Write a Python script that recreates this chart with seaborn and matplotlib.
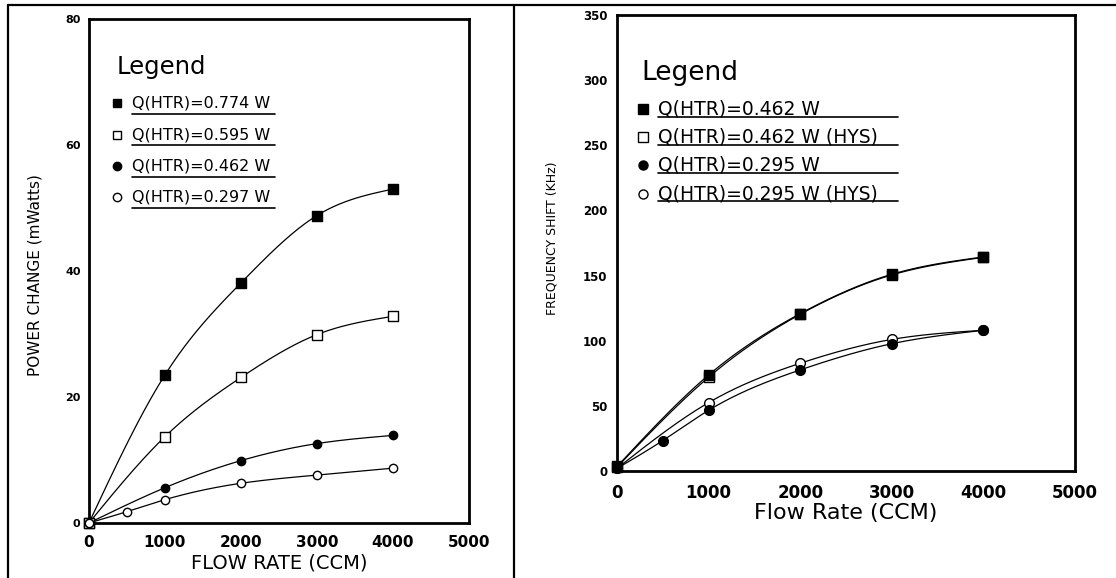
import numpy as np
import pandas as pd
import matplotlib
matplotlib.use("Agg")
import matplotlib.pyplot as plt
from matplotlib.lines import Line2D
import seaborn as sns

# ---- data -------------------------------------------------------------
# Left panel: power change (mW) vs flow rate (CCM)
flow_power = [0, 1000, 2000, 3000, 4000]
power_0774 = [0, 23.5, 38.1, 48.8, 53.0]
power_0595 = [0, 13.7, 23.1, 29.9, 32.8]
power_0462 = [0, 5.6, 9.9, 12.6, 13.9]
flow_power_0297 = [0, 500, 1000, 2000, 3000, 4000]
power_0297 = [0, 1.8, 3.7, 6.3, 7.6, 8.7]
power_labels = ["Q(HTR)=0.774 W", "Q(HTR)=0.595 W",
                "Q(HTR)=0.462 W", "Q(HTR)=0.297 W"]

# Right panel: frequency shift (kHz) vs flow rate (CCM)
flow_freq = [0, 1000, 2000, 3000, 4000]
freq_0462 = [3.5, 73.7, 120.8, 151.0, 164.3]
freq_0462_hys = [3.0, 72.0, 120.3, 150.5, 164.0]
flow_freq_0295 = [0, 500, 1000, 2000, 3000, 4000]
freq_0295 = [2.0, 23.4, 46.6, 77.6, 97.7, 108.0]
freq_0295_hys = [2.0, 52.5, 82.7, 101.0, 108.0]
freq_labels = ["Q(HTR)=0.462 W", "Q(HTR)=0.462 W (HYS)",
               "Q(HTR)=0.295 W", "Q(HTR)=0.295 W (HYS)"]

x_ticks = [0, 1000, 2000, 3000, 4000, 5000]
power_ticks = [0, 20, 40, 60, 80]
freq_ticks = [0, 50, 100, 150, 200, 250, 300, 350]


def natural_spline(x, y, xs):
    """Natural cubic spline through the measured points."""
    x = np.asarray(x, float)
    y = np.asarray(y, float)
    n = len(x)
    h = np.diff(x)
    A = np.zeros((n, n))
    b = np.zeros(n)
    A[0, 0] = A[-1, -1] = 1.0
    for i in range(1, n - 1):
        A[i, i - 1] = h[i - 1]
        A[i, i] = 2 * (h[i - 1] + h[i])
        A[i, i + 1] = h[i]
        b[i] = 6 * ((y[i + 1] - y[i]) / h[i] - (y[i] - y[i - 1]) / h[i - 1])
    M = np.linalg.solve(A, b)
    idx = np.clip(np.searchsorted(x, xs) - 1, 0, n - 2)
    x0, x1 = x[idx], x[idx + 1]
    hh = h[idx]
    return (M[idx] * (x1 - xs) ** 3 / (6 * hh)
            + M[idx + 1] * (xs - x0) ** 3 / (6 * hh)
            + (y[idx] / hh - M[idx] * hh / 6) * (x1 - xs)
            + (y[idx + 1] / hh - M[idx + 1] * hh / 6) * (xs - x0))


sns.set_style("white")
plt.rcParams["font.family"] = ["DejaVu Sans"]
plt.rcParams.update({
    "axes.edgecolor": "black",
    "text.color": "black",
    "axes.labelcolor": "black",
    "xtick.color": "black",
    "ytick.color": "black",
})

fig = plt.figure(figsize=(11.16, 5.78), dpi=100)
ax1 = fig.add_axes([0.0797, 0.0952, 0.3405, 0.872])
ax2 = fig.add_axes([0.5529, 0.1851, 0.4104, 0.789])

MARKERS = [("s", "black"), ("s", "white"), ("o", "black"), ("o", "white")]


def draw_series(ax, xs, ys, marker, face, size):
    xf = np.linspace(min(xs), max(xs), 300)
    sns.lineplot(x=xf, y=natural_spline(xs, ys, xf), ax=ax, color="black",
                 linewidth=0.9, sort=False, estimator=None, zorder=2)
    sns.scatterplot(x=xs, y=ys, ax=ax, marker=marker, s=size**2,
                    facecolor=face, edgecolor="black", linewidth=1.0,
                    zorder=3, clip_on=False)


def draw_legend(ax, title_xy, title_size, marker_x, text_x, rows,
                underline_y, underline_end, labels, text_size, msize):
    ax.text(title_xy[0], title_xy[1], "Legend", transform=ax.transAxes,
            fontsize=title_size, ha="left", va="center")
    for (mk, face), y, uy, lab in zip(MARKERS, rows, underline_y, labels):
        ax.plot([marker_x], [y], marker=mk, markersize=msize,
                markerfacecolor=face, markeredgecolor="black",
                markeredgewidth=1.0, linestyle="none",
                transform=ax.transAxes)
        ax.text(text_x, y, lab, transform=ax.transAxes,
                fontsize=text_size, ha="left", va="center")
        ax.plot([text_x, underline_end], [uy, uy], color="black",
                linewidth=1.2, transform=ax.transAxes)


# ---- left panel -------------------------------------------------------
left_series = [(flow_power, power_0774), (flow_power, power_0595),
               (flow_power, power_0462), (flow_power_0297, power_0297)]
for (xs, ys), (mk, face) in zip(left_series, MARKERS):
    draw_series(ax1, xs, ys, mk, face, 6.5 if mk == "s" else 6.0)

ax1.set_xlim(0, 5000)
ax1.set_ylim(0, 80)
ax1.set_xticks(x_ticks)
ax1.set_yticks(power_ticks)
ax1.tick_params(axis="x", direction="out", length=6, width=1.2,
                labelsize=11, pad=3)
ax1.tick_params(axis="y", direction="out", length=5, width=1.0,
                labelsize=8, pad=1)
for lab in ax1.get_xticklabels() + ax1.get_yticklabels():
    lab.set_fontweight("bold")
ax1.set_xlabel("FLOW RATE (CCM)", fontsize=14, labelpad=2)
ax1.set_ylabel("POWER CHANGE (mWatts)", fontsize=11)
ax1.yaxis.set_label_coords(-0.121, 0.492)
draw_legend(ax1, (0.073, 0.905), 17.5, 0.074, 0.112,
            [0.833, 0.770, 0.708, 0.647], [0.812, 0.750, 0.687, 0.625],
            0.489, power_labels, 11.5, 6)

# ---- right panel ------------------------------------------------------
right_series = [(flow_freq, freq_0462), (flow_freq, freq_0462_hys),
                (flow_freq_0295, freq_0295), (flow_freq, freq_0295_hys)]
order = [1, 0, 3, 2]
for i in order:
    xs, ys = right_series[i]
    mk, face = MARKERS[i]
    draw_series(ax2, xs, ys, mk, face, 7.5 if mk == "s" else 7.0)

ax2.set_xlim(0, 5000)
ax2.set_ylim(0, 350)
ax2.set_xticks(x_ticks)
ax2.set_yticks(freq_ticks)
ax2.tick_params(axis="x", direction="out", length=6, width=1.2,
                labelsize=12, pad=3)
ax2.tick_params(axis="y", direction="out", length=6, width=1.0,
                labelsize=8.5, pad=1)
for lab in ax2.get_xticklabels() + ax2.get_yticklabels():
    lab.set_fontweight("bold")
ax2.set_xlabel("Flow Rate (CCM)", fontsize=16, labelpad=1)
ax2.set_ylabel("FREQUENCY SHIFT (KHz)", fontsize=9)
ax2.yaxis.set_label_coords(-0.127, 0.51)
draw_legend(ax2, (0.054, 0.872), 19, 0.056, 0.0895,
            [0.794, 0.732, 0.670, 0.607], [0.777, 0.715, 0.653, 0.591],
            0.614, freq_labels, 13.5, 6.5)

for ax in (ax1, ax2):
    for sp in ax.spines.values():
        sp.set_visible(True)
        sp.set_linewidth(2.0)
        sp.set_color("black")

# ---- page frame -------------------------------------------------------
W, H = 1116.0, 578.0


def frame_line(x0, y0, x1, y1):
    fig.add_artist(Line2D([x0 / W, x1 / W], [1 - y0 / H, 1 - y1 / H],
                          color="black", linewidth=1.6,
                          transform=fig.transFigure))


frame_line(8, 5, 1116, 5)
frame_line(8, 5, 8, 578)
frame_line(514, 5, 514, 578)

fig.savefig("out.png", dpi=100, facecolor="white")
